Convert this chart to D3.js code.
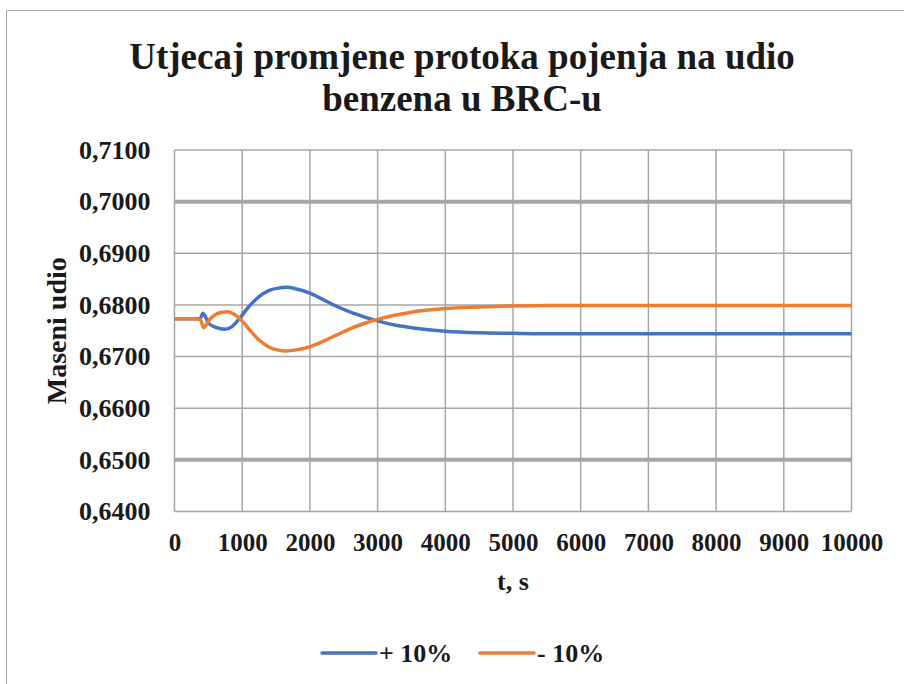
<!DOCTYPE html>
<html>
<head>
<meta charset="utf-8">
<script src="https://cdn.jsdelivr.net/npm/d3@7"></script>
<style>
  html, body { margin: 0; padding: 0; background: #fff; }
  svg text { font-family: "Liberation Serif", "Times New Roman", serif; font-weight: bold; fill: #1a1a1a; }
</style>
</head>
<body>
<script>
// time axis (s)
var times = [0, 300, 380, 420, 450, 500, 600, 750, 850, 950, 1100, 1250, 1400, 1550, 1650, 1800, 2000,
    2200, 2400, 2600, 2800, 3000, 3250, 3500, 3750, 4000, 4500, 5000, 5500, 6000, 7000, 8000, 9000, 10000];
// + 10 %
var plusTen = [0.6773, 0.6773, 0.6774, 0.6784, 0.6779, 0.6765, 0.6757, 0.6753, 0.6758, 0.6772, 0.6797, 0.6816,
    0.6828, 0.6833, 0.6834, 0.6831, 0.6823, 0.6810, 0.6797, 0.6786, 0.6777, 0.6769, 0.6761, 0.6756, 0.6752,
    0.6749, 0.6746, 0.6745, 0.6744, 0.6744, 0.6744, 0.6744, 0.6744, 0.6744];
// - 10 %
var minusTimes = [0, 300, 380, 430, 470, 520, 600, 700, 780, 880, 1000, 1100, 1250, 1400, 1550, 1650, 1800, 2000,
    2200, 2400, 2600, 2800, 3000, 3250, 3500, 3750, 4000, 4500, 5000, 5500, 6000, 7000, 8000, 10000];
var minusTen = [0.6773, 0.6773, 0.6772, 0.6756, 0.6762, 0.6772, 0.6781, 0.6786, 0.6787, 0.6782, 0.6769, 0.6753,
    0.6732, 0.6718, 0.6712, 0.6711, 0.6713, 0.6719, 0.6730, 0.6742, 0.6754, 0.6764, 0.6772, 0.6780, 0.6786,
    0.6790, 0.6793, 0.6796, 0.6798, 0.6799, 0.6799, 0.6799, 0.6799, 0.6799];

var xTicks = d3.range(0, 10001, 1000);
var yTicks = [0.64, 0.65, 0.66, 0.67, 0.68, 0.69, 0.70, 0.71];
var thickY = [0.65, 0.70];

var W = 904, H = 684;
var pLeft = 174.5, pRight = 851.5, pTop = 150, pBottom = 511.5;

var svg = d3.select('body').append('svg')
    .attr('width', W)
    .attr('height', H);

// chart frame
svg.append('path')
    .attr('d', `M6.5,${H} L6.5,10.5 L${W},10.5`)
    .attr('fill', 'none')
    .attr('stroke', '#a6a6a6')
    .attr('stroke-width', 1);

var x = d3.scaleLinear().domain([0, 10000]).range([pLeft, pRight]);
var y = d3.scaleLinear().domain([0.64, 0.71]).range([pBottom, pTop]);

// grid
svg.append('g').selectAll('line')
    .data(xTicks)
    .enter().append('line')
    .attr('x1', d => x(d)).attr('x2', d => x(d))
    .attr('y1', pTop).attr('y2', pBottom)
    .attr('stroke', '#a6a6a6')
    .attr('stroke-width', 1.5);

svg.append('g').selectAll('line')
    .data(yTicks)
    .enter().append('line')
    .attr('x1', pLeft).attr('x2', pRight)
    .attr('y1', d => y(d)).attr('y2', d => y(d))
    .attr('stroke', '#a6a6a6')
    .attr('stroke-width', d => thickY.some(t => Math.abs(t - d) < 1e-9) ? 4 : 1.5);

// axes labels via d3 axes
var fmt = d => d3.format('.4f')(d).replace('.', ',');
var yAxis = svg.append('g')
    .attr('transform', `translate(${pLeft},0)`)
    .call(d3.axisLeft(y).tickValues(yTicks).tickFormat(fmt).tickSize(0).tickPadding(24));
yAxis.select('.domain').remove();
yAxis.selectAll('text')
    .attr('font-size', 26)
    .attr('font-family', '"Liberation Serif", serif')
    .attr('font-weight', 'bold')
    .attr('fill', '#1a1a1a');

var xAxis = svg.append('g')
    .attr('transform', `translate(0,${pBottom})`)
    .call(d3.axisBottom(x).tickValues(xTicks).tickFormat(d3.format('d')).tickSize(0).tickPadding(22));
xAxis.select('.domain').remove();
xAxis.selectAll('text')
    .attr('font-size', 25)
    .attr('font-family', '"Liberation Serif", serif')
    .attr('font-weight', 'bold')
    .attr('fill', '#1a1a1a');

// series
var line = d3.line()
    .x(d => x(d[0]))
    .y(d => y(d[1]))
    .curve(d3.curveMonotoneX);

var plusData = times.map((t, i) => [t, plusTen[i]]);
var minusData = minusTimes.map((t, i) => [t, minusTen[i]]);

svg.append('path')
    .attr('d', line(plusData))
    .attr('fill', 'none')
    .attr('stroke', '#4472c4')
    .attr('stroke-width', 3.5);

svg.append('path')
    .attr('d', line(minusData))
    .attr('fill', 'none')
    .attr('stroke', '#ed7d31')
    .attr('stroke-width', 3.5);

// titles
svg.append('text')
    .attr('x', 462).attr('y', 69)
    .attr('text-anchor', 'middle')
    .attr('font-size', 37)
    .text('Utjecaj promjene protoka pojenja na udio');
svg.append('text')
    .attr('x', 462).attr('y', 111)
    .attr('text-anchor', 'middle')
    .attr('font-size', 37)
    .text('benzena u BRC-u');

svg.append('text')
    .attr('x', (pLeft + pRight) / 2).attr('y', 590)
    .attr('text-anchor', 'middle')
    .attr('font-size', 26)
    .text('t, s');

svg.append('text')
    .attr('transform', `translate(66,${(pTop + pBottom) / 2}) rotate(-90)`)
    .attr('text-anchor', 'middle')
    .attr('font-size', 28)
    .text('Maseni udio');

// legend
var legend = [
    { name: '+ 10%', color: '#4472c4', x: 322 },
    { name: '- 10%', color: '#ed7d31', x: 480 }
];
var lg = svg.append('g').selectAll('g')
    .data(legend)
    .enter().append('g');
lg.append('line')
    .attr('x1', d => d.x).attr('x2', d => d.x + 54)
    .attr('y1', 653).attr('y2', 653)
    .attr('stroke', d => d.color)
    .attr('stroke-width', 3.5)
    .attr('stroke-linecap', 'round');
lg.append('text')
    .attr('x', d => d.x + 57).attr('y', 662)
    .attr('font-size', 26)
    .text(d => d.name);
</script>
</body>
</html>
